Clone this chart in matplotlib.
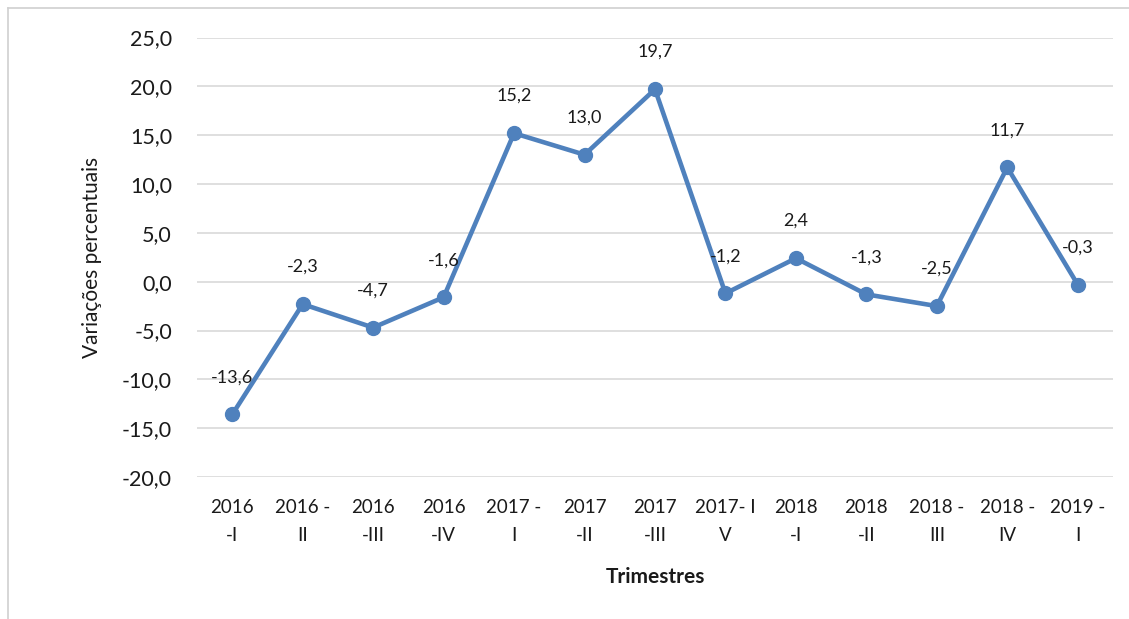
import matplotlib
matplotlib.use('Agg')
import matplotlib.pyplot as plt
from matplotlib.ticker import FuncFormatter

plt.rcParams['font.family'] = ['Lato', 'DejaVu Sans']

trimestres = ['2016\n-I', '2016 -\nII', '2016\n-III', '2016\n-IV', '2017 -\nI',
              '2017\n-II', '2017\n-III', '2017- I\nV', '2018\n-I', '2018\n-II',
              '2018 -\nIII', '2018 -\nIV', '2019 -\nI']
variacoes = [-13.6, -2.3, -4.7, -1.6, 15.2, 13.0, 19.7, -1.2, 2.4, -1.3, -2.5, 11.7, -0.3]
yticks = [-20, -15, -10, -5, 0, 5, 10, 15, 20, 25]

fig = plt.figure(figsize=(11.29, 6.19), dpi=100)
ax = fig.add_axes([0.1745, 0.2294, 0.8113, 0.71])

x = list(range(len(variacoes)))
ax.plot(x, variacoes, color='#4F81BD', lw=3.3, marker='o', ms=10, zorder=3)

for xi, v in zip(x, variacoes):
    ax.annotate(('%.1f' % v).replace('.', ','), (xi, v), xytext=(0, 21),
                textcoords='offset points', ha='center', va='bottom',
                fontsize=13, color='#1a1a1a')

ax.set_xlim(-0.5, len(x) - 0.5)
ax.set_ylim(-20, 25)
ax.set_yticks(yticks)
ax.yaxis.set_major_formatter(FuncFormatter(lambda v, p: ('%.1f' % v).replace('.', ',')))
ax.set_xticks(x)
ax.set_xticklabels(trimestres, fontsize=13.5, linespacing=1.75, color='#1a1a1a')
ax.tick_params(axis='y', labelsize=15.5, labelcolor='#1a1a1a', length=0, pad=18)
ax.tick_params(axis='x', length=0, pad=16)
ax.grid(axis='y', color='#D9D9D9', lw=1.2)
ax.set_axisbelow(True)
for s in ax.spines.values():
    s.set_visible(False)

ax.set_xlabel('Trimestres', fontsize=15, fontweight='bold', labelpad=17, color='#1a1a1a')
ax.set_ylabel('Variações percentuais', fontsize=15, labelpad=14, color='#1a1a1a')

# light frame on the left and top, as in the original
fig.add_artist(plt.Line2D([0.0071, 0.0071], [0.0, 0.987], transform=fig.transFigure,
                          color='#D0D0D0', lw=1.2))
fig.add_artist(plt.Line2D([0.0071, 1.0], [0.987, 0.987], transform=fig.transFigure,
                          color='#D0D0D0', lw=1.2))

fig.savefig('out.png', dpi=100)
